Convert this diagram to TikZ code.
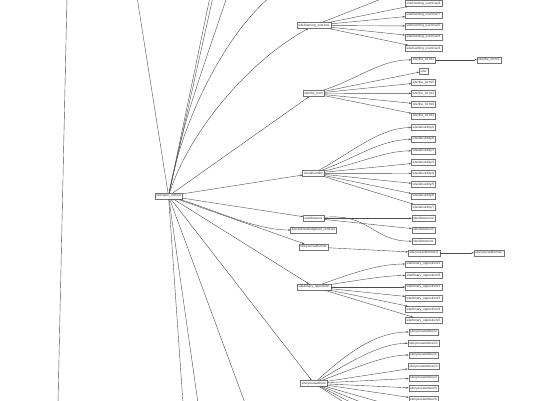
\documentclass[tikz,border=0pt]{standalone}
\usepackage{fontspec}
\setmainfont{Liberation Sans}
\usetikzlibrary{arrows.meta}
\tikzset{
  box/.style={draw=black!55, line width=0.4pt, fill=white, font=\fontsize{3.2}{3.6}\selectfont, text=black!80, inner xsep=1.4pt, inner ysep=0pt, minimum height=6pt},
  edge/.style={draw=black!70, line width=0.4pt, -{Stealth[length=2.4pt,width=1.8pt]}},
  plain/.style={draw=black!70, line width=0.4pt},
}
\begin{document}
\begin{tikzpicture}[x=1pt,y=-1pt]
\useasboundingbox (0,0) rectangle (537,400);
\clip (0,0) rectangle (537,400);
% nodes
\node[box] (main) at (168.5,196) {site/sport\_unified};
\node[box] (le) at (314,25.5) {site/learning\_exercise};
\node[box] (le6) at (423.5,3.3) {site/learning\_exercise/6};
\node[box] (le7) at (423.5,14.8) {site/learning\_exercise/7};
\node[box] (le5) at (423.5,26) {site/learning\_exercise/5};
\node[box] (le4) at (423.5,37) {site/learning\_exercise/4};
\node[box] (le3) at (423.5,48.3) {site/learning\_exercise/3};
\node[box] (tf) at (313.5,93.5) {site/the\_form};
\node[box] (tf2) at (423.5,59.7) {site/the\_form/2};
\node[box] (tf1) at (489,59.7) {site/the\_form/1};
\node[box] (st) at (423.5,71.3) {site/};
\node[box] (tf5) at (423.5,82.3) {site/the\_form/5};
\node[box] (tf3) at (423.5,93.3) {site/the\_form/3};
\node[box] (tf6) at (423.5,104.5) {site/the\_form/6};
\node[box] (tf4) at (423.5,115.7) {site/the\_form/4};
\node[box] (ab) at (313.5,173.3) {site/absurdity};
\node[box] (ab2) at (423.5,127.3) {site/absurdity/2};
\node[box] (ab8) at (423.5,139) {site/absurdity/8};
\node[box] (ab1) at (423.5,150.7) {site/absurdity/1};
\node[box] (ab3) at (423.5,162.3) {site/absurdity/3};
\node[box] (ab4) at (423.5,173.5) {site/absurdity/4};
\node[box] (ab5) at (423.5,184.5) {site/absurdity/5};
\node[box] (ab6) at (423.5,196) {site/absurdity/6};
\node[box] (ab7) at (423.5,207.3) {site/absurdity/7};
\node[box] (di) at (313.5,218.3) {site/distance};
\node[box] (di2) at (423.5,218.3) {site/distance/2};
\node[box] (di3) at (423.5,229.8) {site/distance/3};
\node[box] (di1) at (423.5,241.3) {site/distance/1};
\node[box] (ac) at (313.5,230) {site/acknowledgment\_contract};
\node[box] (yf) at (313.5,247) {site/yourselfformer};
\node[box] (yf1) at (424,252.7) {site/yourselfformer/1};
\node[box] (yf0) at (489,252.7) {site/yourselfformer/};
\node[box] (bo) at (314,287) {site/binary\_opposition};
\node[box] (bo2) at (423.5,264) {site/binary\_opposition/2};
\node[box] (bo6) at (423.5,275.5) {site/binary\_opposition/6};
\node[box] (bo1) at (423.5,287) {site/binary\_opposition/1};
\node[box] (bo3) at (423.5,298.3) {site/binary\_opposition/3};
\node[box] (bo4) at (423.5,309.3) {site/binary\_opposition/4};
\node[box] (bo5) at (423.5,320.3) {site/binary\_opposition/5};
\node[box] (ys) at (314,383.3) {site/yousawthere};
\node[box] (ys2) at (423.5,332) {site/yousawthere/2};
\node[box] (ys12) at (423.5,343.3) {site/yousawthere/12};
\node[box] (ys1) at (423.5,355) {site/yousawthere/1};
\node[box] (ys13) at (423.5,366.5) {site/yousawthere/13};
\node[box] (ys4) at (423.5,377.7) {site/yousawthere/4};
\node[box] (ys5) at (423.5,388.5) {site/yousawthere/5};
\node[box] (ys6) at (423.5,399.5) {site/yousawthere/6};
% off-canvas ends
\coordinate (t1) at (137,-3);
\coordinate (t2) at (210,-3);
\coordinate (t3) at (213,-3);
\coordinate (t4) at (227,-3);
\coordinate (t5) at (270,-3);
\coordinate (b1) at (183,403);
\coordinate (b2) at (198,403);
\coordinate (b3) at (245,403);
\coordinate (la) at (67,-3);
\coordinate (lb) at (58,403);
\coordinate (leo) at (404,-10);
\coordinate (yo1) at (408,410);
\coordinate (yo2) at (408,421);
\coordinate (yo3) at (408,432);
\coordinate (yo4) at (408,443);
% edges from main
\draw[plain] (main) -- (t1);
\draw[plain] (main) -- (t2);
\draw[plain] (main) -- (t3);
\draw[plain] (main) .. controls (185,120) .. (t4);
\draw[plain] (main) .. controls (182,120) and (225,35) .. (t5);
\draw[edge] (main) .. controls (190,130) and (250,60) .. (le);
\draw[edge] (main) -- (tf);
\draw[edge] (main) -- (ab);
\draw[edge] (main) -- (di);
\draw[edge] (main) .. controls (215,210) and (255,230) .. (ac);
\draw[edge] (main) -- (yf);
\draw[edge] (main) -- (bo);
\draw[edge] (main) -- (ys);
\draw[plain] (main) -- (b1);
\draw[plain] (main) -- (b2);
\draw[plain] (main) -- (b3);
\draw[plain] (la) -- (lb);
% learning_exercise
\draw[edge] (le) -- (leo);
\draw[edge] (le) -- (le6);
\draw[edge] (le) -- (le7);
\draw[edge] (le) -- (le5);
\draw[edge] (le) -- (le4);
\draw[edge] (le) -- (le3);
% the_form
\draw[edge] (tf) .. controls (360,78) and (380,60) .. (tf2);
\draw[edge] (tf) -- (st);
\draw[edge] (tf) -- (tf5);
\draw[edge] (tf) -- (tf3);
\draw[edge] (tf) -- (tf6);
\draw[edge] (tf) -- (tf4);
\draw[edge] (tf2) -- (tf1);
% absurdity
\draw[edge] (ab) .. controls (355,150) and (380,128) .. (ab2);
\draw[edge] (ab) .. controls (355,158) and (380,140) .. (ab8);
\draw[edge] (ab) .. controls (360,163) and (385,151) .. (ab1);
\draw[edge] (ab) -- (ab3);
\draw[edge] (ab) -- (ab4);
\draw[edge] (ab) -- (ab5);
\draw[edge] (ab) -- (ab6);
\draw[edge] (ab) -- (ab7);
% distance
\draw[edge] (di) -- (di2);
\draw[edge] (di) -- (di3);
\draw[edge] (di) .. controls (370,213) and (372,241) .. (di1);
% yourselfformer
\draw[edge] (yf) -- (yf1);
\draw[edge] (yf1) -- (yf0);
% binary_opposition
\draw[edge] (bo) .. controls (355,272) and (380,264) .. (bo2);
\draw[edge] (bo) .. controls (360,280) and (385,275.5) .. (bo6);
\draw[edge] (bo) -- (bo1);
\draw[edge] (bo) -- (bo3);
\draw[edge] (bo) -- (bo4);
\draw[edge] (bo) -- (bo5);
% yousawthere
\draw[edge] (ys) .. controls (345,355) and (375,332) .. (ys2);
\draw[edge] (ys) .. controls (350,362) and (380,343.3) .. (ys12);
\draw[edge] (ys) .. controls (355,368) and (385,355) .. (ys1);
\draw[edge] (ys) -- (ys13);
\draw[edge] (ys) -- (ys4);
\draw[edge] (ys) -- (ys5);
\draw[edge] (ys) -- (ys6);
\draw[edge] (ys) -- (yo1);
\draw[edge] (ys) -- (yo2);
\draw[edge] (ys) -- (yo3);
\draw[edge] (ys) -- (yo4);
\end{tikzpicture}
\end{document}
